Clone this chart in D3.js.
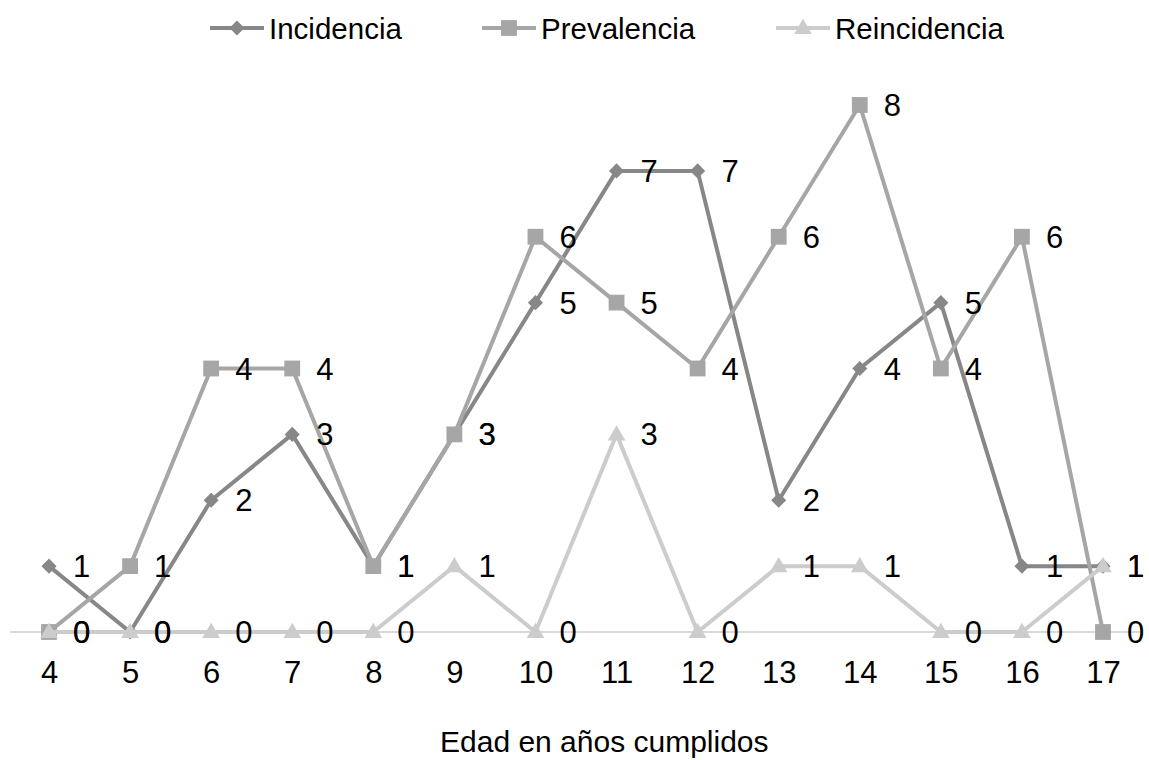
<!DOCTYPE html>
<html>
<head>
<meta charset="utf-8">
<script src="https://cdn.jsdelivr.net/npm/d3@7"></script>
<style>
  html, body { margin: 0; padding: 0; background: #fff; }
  svg { display: block; font-family: "Liberation Sans", Arial, sans-serif; }
</style>
</head>
<body>
<svg id="chart" width="1149" height="760"></svg>
<script>
// Edad en años cumplidos
const ages = [4, 5, 6, 7, 8, 9, 10, 11, 12, 13, 14, 15, 16, 17];
const incidencia   = [1, 0, 2, 3, 1, 3, 5, 7, 7, 2, 4, 5, 1, 1];
const prevalencia  = [0, 1, 4, 4, 1, 3, 6, 5, 4, 6, 8, 4, 6, 0];
const reincidencia = [0, 0, 0, 0, 0, 1, 0, 3, 0, 1, 1, 0, 0, 1];

const seriesNames = ["Incidencia", "Prevalencia", "Reincidencia"];
const seriesValues = [incidencia, prevalencia, reincidencia];
const seriesColors = ["#878787", "#a6a6a6", "#cccccc"];
const seriesSymbols = [d3.symbolDiamond2, d3.symbolSquare, d3.symbolTriangle];
const symbolSizes = [145, 250, 135];

const svg = d3.select("#chart");

const x = d3.scalePoint().domain(ages).range([49, 1103]);
const y = d3.scaleLinear().domain([0, 8]).range([632, 105]);

// baseline axis
svg.append("line")
  .attr("x1", 10).attr("x2", 1141)
  .attr("y1", y(0)).attr("y2", y(0))
  .attr("stroke", "#d9d9d9").attr("stroke-width", 2);

// category tick labels
const xAxis = d3.axisBottom(x).tickSize(0).tickPadding(0);
const gx = svg.append("g").attr("transform", `translate(0,${y(0)})`).call(xAxis);
gx.attr("font-size", null).attr("font-family", null);
gx.select(".domain").remove();
gx.selectAll("text")
  .attr("y", 51).attr("dy", 0)
  .attr("font-size", 31).attr("fill", "#000")
  .style("font-family", "'Liberation Sans', Arial, sans-serif");

const line = d3.line().x((d, i) => x(ages[i])).y(d => y(d));

seriesValues.forEach((vals, s) => {
  const g = svg.append("g");
  g.append("path")
    .datum(vals)
    .attr("d", line)
    .attr("fill", "none")
    .attr("stroke", seriesColors[s])
    .attr("stroke-width", 4)
    .attr("stroke-linejoin", "round");
  const sym = d3.symbol().type(seriesSymbols[s]).size(symbolSizes[s]);
  g.selectAll("path.pt")
    .data(vals)
    .join("path")
    .attr("class", "pt")
    .attr("d", sym)
    .attr("transform", (d, i) => `translate(${x(ages[i])},${y(d) + (s === 2 ? 1 : 0)})`)
    .attr("fill", seriesColors[s]);
});

// data labels
seriesValues.forEach((vals) => {
  svg.append("g").selectAll("text")
    .data(vals)
    .join("text")
    .attr("x", (d, i) => x(ages[i]) + 24)
    .attr("y", d => y(d) + 11)
    .attr("font-size", 31)
    .attr("fill", "#000")
    .text(d => d);
});

// legend
const legendX = [210, 482, 776];
const legendW = 54;
const lg = svg.append("g");
seriesNames.forEach((name, s) => {
  const lx = legendX[s];
  lg.append("line")
    .attr("x1", lx).attr("x2", lx + legendW)
    .attr("y1", 28).attr("y2", 28)
    .attr("stroke", seriesColors[s]).attr("stroke-width", 4);
  lg.append("path")
    .attr("d", d3.symbol().type(seriesSymbols[s]).size(symbolSizes[s])())
    .attr("transform", `translate(${lx + legendW / 2},${28 + (s === 2 ? 1 : 0)})`)
    .attr("fill", seriesColors[s]);
  lg.append("text")
    .attr("x", lx + legendW + 5)
    .attr("y", 39)
    .attr("font-size", 29.5)
    .attr("fill", "#000")
    .text(name);
});

// axis title
svg.append("text")
  .attr("x", 440).attr("y", 752)
  .attr("font-size", 30)
  .attr("fill", "#000")
  .text("Edad en años cumplidos");
</script>
</body>
</html>
